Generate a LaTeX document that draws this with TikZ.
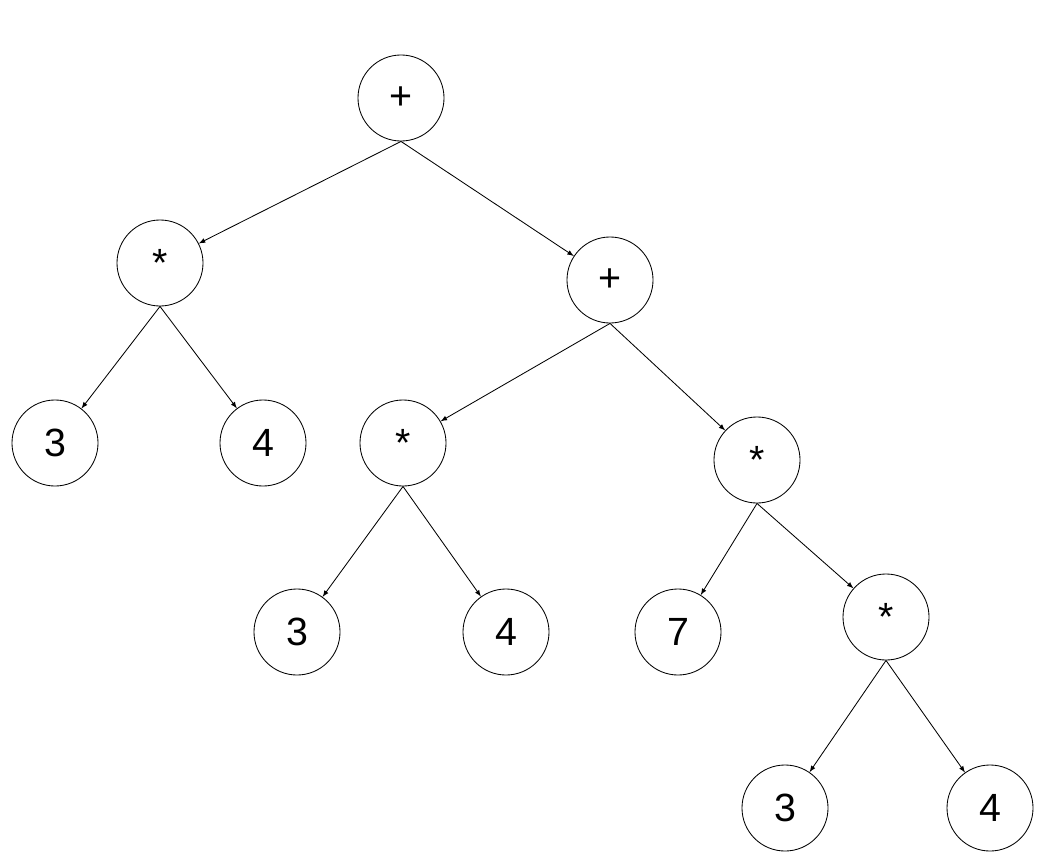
\documentclass[tikz,border=0pt]{standalone}
\usepackage{fontspec}
\setmainfont{Liberation Sans}
\usetikzlibrary{arrows}

\begin{document}
\begin{tikzpicture}[
	  x=0.025cm, y=-0.025cm,
	  %style for arrows
	  arrw/.style={semithick, ->, >=latex},
	  % style for tree nodes
	  nd/.style={circle, draw=black, semithick, minimum size=2.15cm, inner sep=0pt,
	             font=\fontsize{28}{28}\selectfont}]
	  \useasboundingbox (0,0) rectangle (1057,867);

	  %nodes
	  \node[nd](plusroot) at (401,98){+};
	  \node[nd](timesa) at (160,263){*};
	  \node[nd](plusb) at (610,280){+};
	  \node[nd](threea) at (55,443){3};
	  \node[nd](foura) at (263,443){4};
	  \node[nd](timesb) at (403,443){*};
	  \node[nd](timesc) at (757,460){*};
	  \node[nd](threeb) at (297,632){3};
	  \node[nd](fourb) at (506,632){4};
	  \node[nd](seven) at (678,632){7};
	  \node[nd](timesd) at (886,617){*};
	  \node[nd](threec) at (785,808){3};
	  \node[nd](fourc) at (990,808){4};
	  %edges
	  \draw[arrw](plusroot.south) -- (timesa);
	  \draw[arrw](plusroot.south) -- (plusb);
	  \draw[arrw](timesa.south) -- (threea);
	  \draw[arrw](timesa.south) -- (foura);
	  \draw[arrw](plusb.south) -- (timesb);
	  \draw[arrw](plusb.south) -- (timesc);
	  \draw[arrw](timesb.south) -- (threeb);
	  \draw[arrw](timesb.south) -- (fourb);
	  \draw[arrw](timesc.south) -- (seven);
	  \draw[arrw](timesc.south) -- (timesd);
	  \draw[arrw](timesd.south) -- (threec);
	  \draw[arrw](timesd.south) -- (fourc);
\end{tikzpicture}
\end{document}
